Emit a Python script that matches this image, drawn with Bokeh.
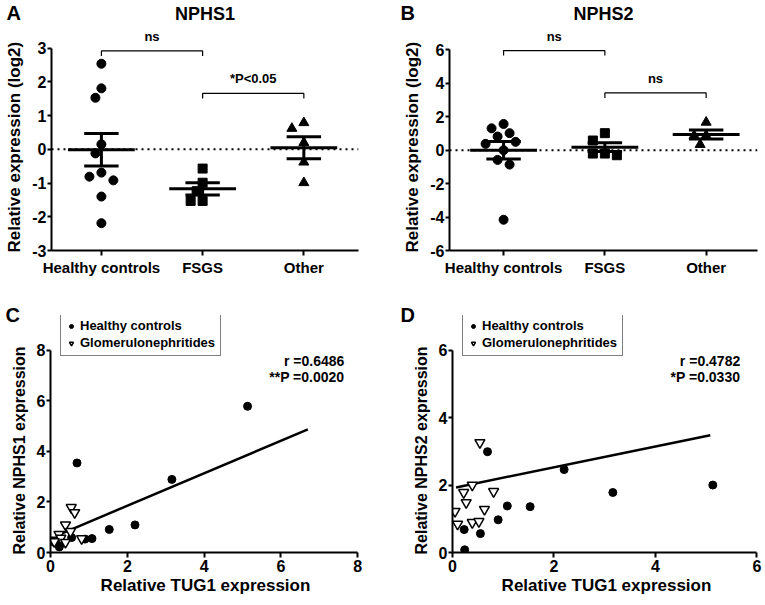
import numpy as np
from bokeh.plotting import figure
from bokeh.models import Legend, LegendItem, Span, FixedTicker, Title
from bokeh.layouts import row, column
from bokeh.embed import file_html
from bokeh.resources import INLINE
from bokeh.core.properties import value

FONT = "Liberation Sans"

# ---------------- data ----------------
groups = ["Healthy controls", "FSGS", "Other"]

# Panel A: NPHS1 relative expression (log2)
a_healthy = [2.54, 1.81, 1.53, 0.15, -0.12, -0.69, -0.81, -0.92, -1.40, -2.19]
a_fsgs = [-0.57, -0.99, -1.24, -1.53, -1.53]
a_other = [0.79, 0.62, 0.20, -0.38, -0.99]
a_brackets = [(1, 2, 2.92, "ns"), (2, 3, 1.66, "*P<0.05")]

# Panel B: NPHS2 relative expression (log2)
b_healthy = [1.57, 1.31, 1.02, 0.82, 0.50, 0.38, 0.0, -0.58, -0.86, -4.16]
b_fsgs = [1.02, 0.58, -0.20, -0.30, -0.20]
b_other = [1.67, 0.88, 0.88, 0.34]
b_brackets = [(1, 2, 5.96, "ns"), (2, 3, 3.43, "ns")]

# Panels C/D: relative TUG1 expression (x) vs NPHS1 / NPHS2
tug1_healthy = [5.13, 3.16, 2.20, 0.69, 1.53, 1.08, 0.90, 0.55, 0.23, 0.24]
tug1_glom = [0.54, 0.39, 0.22, 0.81, 0.27, 0.05, 0.63, 0.10, 0.39, 0.52]
nphs1_healthy = [5.78, 2.89, 1.09, 3.54, 0.91, 0.55, 0.53, 0.59, 0.22, 0.32]
nphs1_glom = [1.78, 1.09, 0.72, 0.55, 0.57, 0.49, 1.58, 0.43, 0.40, 0.83]
nphs2_healthy = [2.00, 1.78, 2.46, 2.99, 1.36, 1.38, 0.97, 0.56, 0.68, 0.08]
nphs2_glom = [3.26, 2.00, 1.78, 1.81, 1.48, 1.22, 1.28, 0.84, 0.89, 0.92]
c_fit_x = [0.15, 6.70]
c_fit_y = [0.66, 4.87]
d_fit_x = [0.07, 5.08]
d_fit_y = [1.93, 3.48]
c_stats = ["r =0.6486", "**P =0.0020"]
d_stats = ["r =0.4782", "*P =0.0330"]


# ---------------- helpers ----------------
def beeswarm(vals, ypx, xpx, D=10.0, step=6.0):
    vals = np.asarray(vals, dtype=float)
    order = np.argsort(-vals, kind="stable")
    placed = []
    offs = np.zeros(len(vals))
    cands = [0.0]
    for k in range(1, 12):
        cands += [-k * step, k * step]
    for i in order:
        y = vals[i] * ypx
        for c in cands:
            if all((c - px) ** 2 + (y - py) ** 2 >= D * D for px, py in placed):
                offs[i] = c / xpx
                placed.append((c, y))
                break
    return offs


def style(p, tick_size="16px", label_size="17px"):
    p.grid.visible = False
    p.outline_line_color = None
    p.background_fill_color = "white"
    p.border_fill_color = "white"
    for ax in p.axis:
        ax.axis_line_width = 2
        ax.axis_line_color = "black"
        ax.major_tick_line_width = 2
        ax.major_tick_line_color = "black"
        ax.major_tick_out = 5
        ax.major_tick_in = 0
        ax.minor_tick_out = 0
        ax.minor_tick_in = 0
        ax.major_label_text_font = FONT
        ax.major_label_text_font_style = "bold"
        ax.major_label_text_font_size = tick_size
        ax.major_label_text_color = "black"
        ax.major_label_standoff = 2
        ax.axis_label_text_font = FONT
        ax.axis_label_text_font_style = "bold"
        ax.axis_label_text_font_size = label_size
        ax.axis_label_text_color = "black"
        ax.axis_label_standoff = 3
    p.yaxis.major_tick_out = 4
    p.yaxis.major_label_standoff = 1


def set_ticks(ax, ticks):
    ax.ticker = FixedTicker(ticks=ticks)
    ax.major_label_overrides = {t: str(t) for t in ticks}


def add_titles(p, letter, letter_offset, title=None):
    # heading texts in the top side panel, centred on the top edge of the frame
    p.title.text = letter
    p.title.align = "left"
    p.title.offset = letter_offset
    p.title.vertical_align = "middle"
    p.title.standoff = -23
    p.title.text_font = FONT
    p.title.text_font_style = "bold"
    p.title.text_font_size = "20px"
    p.title.text_color = "black"
    if title is not None:
        p.add_layout(Title(text=title, align="center", vertical_align="middle",
                           standoff=-21, text_font=FONT, text_font_style="bold",
                           text_font_size="18px", text_color="black"), "above")


def add_ylabel(p, text, size, offset=-2, standoff=8):
    # y axis title, starting at the bottom of the axis (as in the reference)
    p.add_layout(Title(text=text, align="left", offset=offset, vertical_align="top",
                       standoff=standoff, text_font=FONT, text_font_style="bold",
                       text_font_size=size, text_color="black"), "left")


def dot_panel(width, height, mb, xr, yr, ybounds, yticks, data, brackets, ypx, xpx,
              title, letter, letter_offset, ylabel):
    p = figure(width=width, height=height, x_range=xr, y_range=yr,
               output_backend="svg", toolbar_location=None,
               min_border_left=mb[0], min_border_right=mb[1],
               min_border_top=mb[2], min_border_bottom=mb[3])
    style(p)
    add_titles(p, letter, letter_offset, title)
    add_ylabel(p, ylabel, "17px")
    p.yaxis.bounds = ybounds
    set_ticks(p.yaxis[0], yticks)
    p.xaxis.ticker = FixedTicker(ticks=[1, 2, 3])
    p.xaxis.major_label_overrides = {1: groups[0], 2: groups[1], 3: groups[2]}
    p.xaxis.major_label_text_font_size = "15px"
    p.xaxis.major_label_standoff = 3
    p.add_layout(Span(location=0, dimension="width", line_color="black",
                      line_width=2, line_dash="2 4"))
    markers = ["circle", "square", "triangle"]
    sizes = [9, 9, 10]
    for k, vals in enumerate(data):
        vals = np.asarray(vals, dtype=float)
        xs = (k + 1) + beeswarm(vals, ypx, xpx)
        p.scatter(xs, vals, marker=markers[k], size=sizes[k], color="black")
        m = vals.mean()
        sem = vals.std(ddof=1) / np.sqrt(len(vals))
        cx = k + 1
        p.segment(x0=[cx - 0.33, cx - 0.17, cx - 0.17, cx],
                  x1=[cx + 0.33, cx + 0.17, cx + 0.17, cx],
                  y0=[m, m + sem, m - sem, m - sem],
                  y1=[m, m + sem, m - sem, m + sem],
                  line_color="black", line_width=3)
    drop = 5.0 / ypx
    for (x1, x2, y, txt) in brackets:
        p.line([x1, x1, x2, x2], [y - drop, y, y, y - drop], line_color="black", line_width=1.2)
        p.text(x=[(x1 + x2) / 2], y=[y + 7.0 / ypx], text=[txt], text_font=value(FONT),
               text_font_style="bold", text_font_size="13px", text_align="center",
               text_baseline="bottom", text_color="black")
    return p


def scatter_panel(width, height, mb, xr, yr, xb, yb, xticks, yticks, xh, yh, xg, yg,
                  fx, fy, stats, stat_x, stat_y, letter, letter_offset, ylabel, leg_loc):
    p = figure(width=width, height=height, x_range=xr, y_range=yr,
               output_backend="svg", toolbar_location=None,
               min_border_left=mb[0], min_border_right=mb[1],
               min_border_top=mb[2], min_border_bottom=mb[3])
    style(p)
    add_titles(p, letter, letter_offset)
    add_ylabel(p, ylabel, "16px")
    p.xaxis.bounds = xb
    p.yaxis.bounds = yb
    set_ticks(p.xaxis[0], xticks)
    set_ticks(p.yaxis[0], yticks)
    p.xaxis.axis_label = "Relative TUG1 expression"
    p.xaxis.axis_label_standoff = 1
    p.line(fx, fy, line_color="black", line_width=2.5)
    r1 = p.scatter(xh, yh, marker="circle", size=8, color="black")
    r2 = p.scatter(xg, yg, marker="inverted_triangle", size=10, fill_color="white",
                   line_color="black", line_width=1.5)
    for i, s in enumerate(stats):
        p.text(x=[stat_x], y=[stat_y[i]], text=[s], text_font=value(FONT),
               text_font_style="bold", text_font_size="14px", text_align="right",
               text_baseline="middle", text_color="black")
    leg = Legend(items=[LegendItem(label="Healthy controls", renderers=[r1]),
                        LegendItem(label="Glomerulonephritides", renderers=[r2])],
                 location=leg_loc, orientation="vertical",
                 border_line_color="black", border_line_width=1.5,
                 background_fill_color="white", background_fill_alpha=1.0,
                 padding=5, spacing=2, margin=0, glyph_height=14, glyph_width=10,
                 label_standoff=4, label_height=14,
                 label_text_font=FONT, label_text_font_style="bold",
                 label_text_font_size="13px", label_text_color="black")
    p.add_layout(leg)
    return p


pA = dot_panel(383, 300, (50, 25, 14, 50), (0.507, 3.54), (-3, 4.0), (-3, 3),
               [-3, -2, -1, 0, 1, 2, 3], [a_healthy, a_fsgs, a_other], a_brackets,
               33.7, 101.5, "NPHS1", "A", -45, "Relative expression (log2)")
pB = dot_panel(382, 300, (66, 8, 14, 50), (0.466, 3.507), (-6, 8.12), (-6, 6),
               [-6, -4, -2, 0, 2, 4, 6], [b_healthy, b_fsgs, b_other], b_brackets,
               16.71, 101.3, "NPHS2", "B", -49, "Relative expression (log2)")
pC = scatter_panel(383, 305, (50, 23, 15, 53), (0, 8.07), (0, 9.37), (0, 8), (0, 8),
                   [0, 2, 4, 6, 8], [0, 2, 4, 6, 8],
                   tug1_healthy, nphs1_healthy, tug1_glom, nphs1_glom,
                   c_fit_x, c_fit_y, c_stats, 7.65, [7.58, 6.94], "C", -45,
                   "Relative NPHS1 expression", (10, 196))
pD = scatter_panel(382, 305, (69, 5, 15, 53), (0, 6.07), (0, 7.03), (0, 6), (0, 6),
                   [0, 2, 4, 6], [0, 2, 4, 6],
                   tug1_healthy, nphs2_healthy, tug1_glom, nphs2_glom,
                   d_fit_x, d_fit_y, d_stats, 5.67, [5.69, 5.22], "D", -52,
                   "Relative NPHS2 expression", (10, 196))

layout = column(row(pA, pB), row(pC, pD))
open("out.html", "w").write(file_html(layout, INLINE))
